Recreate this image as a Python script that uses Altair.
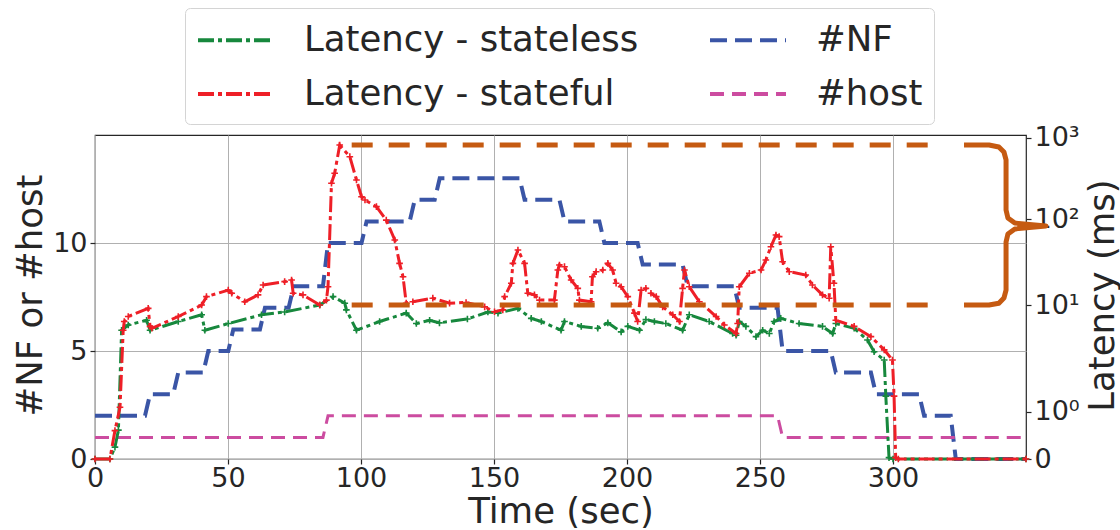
import altair as alt
import pandas as pd

# ---------------- data ----------------
x_ticks = [0, 50, 100, 150, 200, 250, 300]
left_ticks = [0, 5, 10]
# right axis: piecewise (0, 10^0, 10^1, 10^2, 10^3)
right_ticks = [0, 1, 2, 3, 4]
right_labels = ["0", "10⁰", "10¹", "10²", "10³"]

series_names = ["Latency - stateless", "Latency - stateful", "#NF", "#host"]
series_colors = ["#17883d", "#ee1f27", "#3a55a6", "#cc4ca0"]
series_dash = [[16, 4, 4, 4], [16, 4, 4, 4], [17, 8], [14, 8]]

nf_t = [0, 18.8, 29.4, 40.7, 50.1, 62.0, 72.8, 85.7, 100.2, 118.3, 127.7, 159.6,
        174.6, 189.6, 204.0, 220.9, 240.3, 256.6, 276.6, 291.7, 309.8, 321.7]
nf_v = [2, 3, 4, 5, 6, 7, 8, 10, 11, 12, 13, 12, 11, 10, 9, 8, 7, 5, 4, 3, 2, 0]

host_t = [0, 85.7, 256.6]
host_v = [1, 2, 1]

stateless_t = [0, 5.6, 7.5, 8.8, 10.0, 12.5, 19.4, 20.7, 31.3, 40.1, 41.3, 50.1, 62.6,
               71.3, 84.5, 89.5, 93.9, 94.5, 98.3, 107, 117, 120.8, 125.8, 129.5, 140.0,
               147.7, 151.5, 159, 164, 167.8, 175.2, 176.5, 182.8, 189, 192.8, 197.8,
               200.3, 204.7, 207.1, 210.3, 214.6, 220.9, 223.4, 230.9, 239.7, 241, 242.2,
               244.7, 248.5, 251, 253.5, 255.3, 257.8, 264.7, 273.5, 277.3, 278.5, 285.4,
               290.4, 292.9, 296.7, 297.3, 298.5, 300, 350]
stateless_ms = [0, 0, 0.25, 0.61, 5.8, 6.5, 7.2, 5.8, 7.0, 8.1, 5.8, 6.7, 8.1,
                8.6, 10.0, 12.5, 10.5, 9.0, 5.8, 7.0, 8.4, 6.7, 7.2, 6.8, 7.4,
                8.6, 8.4, 9.3, 7.5, 7.0, 5.8, 7.0, 6.3, 6.05, 6.8, 5.6,
                6.3, 5.8, 7.3, 7.0, 6.7, 5.8, 8.1, 7.0, 5.4, 5.2, 7.0,
                6.3, 5.05, 5.8, 5.4, 7.0, 7.5, 6.7, 6.3, 5.4, 6.7, 6.05,
                4.7, 3.65, 3.05, 1.4, 0.03, 0, 0]

stateful_t = [0, 5.6, 7.5, 9.4, 10.6, 11.0, 12.5, 20.0, 20.7, 21.4, 31.3, 40.1, 41.9,
              50.1, 51.4, 56.3, 61.3, 63.2, 71.3, 73.9, 74.5, 78.2, 84.5, 87.0, 87.6,
              88.9, 90.1, 92.0, 95.8, 98.3, 100.2, 101.5, 105.8, 109.5, 112.7, 114.5,
              115.8, 117.0, 119.5, 127.0, 133.3, 139.5, 146.5, 150.2, 153.3, 154.0,
              156.5, 157.1, 159.0, 161.5, 162.7, 165.2, 167.1, 172.7, 174.0, 174.6,
              176.5, 179.0, 181.5, 182.1, 186.5, 187.0, 188.4, 190.9, 192.8, 194.6,
              195.9, 197.8, 200.3, 202.8, 204.0, 205.3, 207.1, 209.0, 211.0, 213.4,
              217.2, 219.7, 220.9, 221.6, 223.4, 227.2, 233.5, 236.6, 241.0, 241.6,
              242.2, 246.0, 250.4, 252.2, 254.1, 256.0, 257.2, 258.5, 261.0, 267.2,
              269.7, 273.5, 276.0, 276.6, 277.8, 278.5, 285.4, 291.7, 296.7, 299.8,
              300.4, 301.0, 302, 350]
stateful_ms = [0, 0, 0.6, 1.1, 5.8, 7.0, 7.8, 9.3, 6.3, 6.05, 7.8, 10.0, 12.5,
               14.9, 13.7, 10.9, 13.1, 17.1, 18.7, 19.5, 13.7, 13.1, 10.0, 11.4, 16.3,
               275, 365, 813, 584, 302, 188, 171, 142, 97, 57, 30.5,
               21.3, 10.5, 10.9, 12.0, 10.5, 10.7, 9.6, 8.65, 9.0, 12.5,
               17.9, 30.5, 43.6, 30.5, 13.7, 13.1, 11.4, 11.4, 25.5, 29.2,
               27.9, 19.5, 15.6, 11.4, 10.9, 21.3, 24.4, 25.5, 30.5, 25.5,
               17.9, 16.3, 12.5, 8.4, 7.0, 14.9, 15.6, 13.7, 12.5, 9.6,
               8.1, 7.0, 15.6, 25.5, 16.3, 10.9, 7.8, 6.5, 5.4, 6.7,
               16.3, 23.4, 25.5, 33.3, 47.6, 65.2, 62.3, 31.8, 24.4, 22.3,
               17.1, 13.1, 12.0, 47.6, 17.9, 7.2, 6.3, 5.05, 3.8, 3.05,
               1.4, 0.03, 0, 0]

# orange annotation (latency band 10 ms .. ~800 ms)
band_ms = [10, 813]
band_t_start = 96.5
band_t_end = 314.5
brace_t = [326.7, 336.1, 339.8, 341.7, 342.5, 342.5, 343.2, 345.8, 357.5,
           345.8, 343.2, 342.5, 342.5, 341.7, 339.8, 336.1, 326.7]
brace_ms = [813, 813, 769, 667, 532, 129, 103, 89.7, 83,
            76.6, 67, 54, 14.9, 12.05, 10.5, 10, 10]

T_END = 350
RAMP = 1.9


def steps(ts, vs, name):
    rows = [(ts[0], vs[0])]
    for i in range(1, len(ts)):
        rows.append((ts[i], vs[i - 1]))
        rows.append((ts[i] + RAMP, vs[i]))
    rows.append((T_END, vs[-1]))
    return pd.DataFrame({"t": [r[0] for r in rows], "v": [r[1] for r in rows],
                         "series": name})


cnt_df = pd.concat([steps(nf_t, nf_v, "#NF"), steps(host_t, host_v, "#host")],
                   ignore_index=True)
lat_df = pd.concat([
    pd.DataFrame({"t": stateless_t, "ms": stateless_ms, "series": "Latency - stateless"}),
    pd.DataFrame({"t": stateful_t, "ms": stateful_ms, "series": "Latency - stateful"}),
], ignore_index=True)
band_df = pd.DataFrame({"t": band_t_start, "t2": band_t_end, "ms": band_ms})
brace_df = pd.DataFrame({"t": brace_t, "ms": brace_ms, "i": list(range(len(brace_t)))})

LV = "datum.ms <= 1 ? datum.ms : 1 + log(datum.ms) / LN10"

# ---------------- scales / axes ----------------
FONT = "DejaVu Sans"
INK = "#262626"
H = 324
W = 931

xscale = alt.Scale(domain=[0, T_END], nice=False, zero=False)
xaxis = alt.Axis(values=x_ticks, title="Time (sec)", grid=True, labelFlush=False,
                 labelBaseline="top", labelPadding=1,
                 titleY=63, titleBaseline="alphabetic")

lscale = alt.Scale(domain=[0, 15], nice=False, zero=True)
laxis = alt.Axis(values=left_ticks, title="#NF or #host", grid=True, orient="left",
                 labelPadding=3, labelFlush=False, titleX=-54, titleY=160, titleAngle=270,
                 titleAlign="center", titleBaseline="alphabetic")

rscale = alt.Scale(domain=[0, 1, 2, 3, 4.033], range=[H, 276.7, 170, 84, 0],
                   nice=False, zero=False)
raxis = alt.Axis(values=right_ticks, title="Latency (ms)", grid=False, orient="right",
                 labelExpr="['0','10⁰','10¹','10²','10³'][datum.value]",
                 labelAlign="left", labelPadding=3, labelFlush=False,
                 titleX=87, titleY=160, titleAngle=270, titleAlign="center",
                 titleBaseline="alphabetic")

color_scale = alt.Scale(domain=series_names, range=series_colors)
dash_scale = alt.Scale(domain=series_names, range=series_dash)
legend = alt.Legend(title=None, orient="none", legendX=90, legendY=-127, columns=2,
                    direction="vertical",
                    symbolType="M-2,0H2", symbolSize=1444, symbolOffset=19,
                    symbolStrokeWidth=4,
                    labelFontSize=35.5, labelFont=FONT, labelColor=INK,
                    labelOffset=47, columnPadding=63, rowPadding=14, padding=11,
                    labelLimit=700, strokeColor="#d4d4d4",
                    fillColor="rgba(255,255,255,0.85)", cornerRadius=5)

color_enc = alt.Color("series:N", scale=color_scale, legend=legend)
dash_enc = alt.StrokeDash("series:N", scale=dash_scale, legend=legend)

# ---------------- layer A: counts (left axis) ----------------
cnt_base = alt.Chart(cnt_df).encode(
    x=alt.X("t:Q", scale=xscale, axis=xaxis),
    y=alt.Y("v:Q", scale=lscale, axis=laxis),
    color=color_enc,
    strokeDash=dash_enc,
)
nf_line = cnt_base.transform_filter("datum.series == '#NF'").mark_line(strokeWidth=4)
host_line = cnt_base.transform_filter("datum.series == '#host'").mark_line(strokeWidth=3)
layer_a = alt.layer(nf_line, host_line)

# ---------------- layer B: latency (right axis) ----------------
lat_base = alt.Chart(lat_df).transform_calculate(lv=LV).encode(
    x=alt.X("t:Q", scale=xscale, axis=xaxis),
    y=alt.Y("lv:Q", scale=rscale, axis=raxis),
)
plus = "M-1,0H1M0,-1V1"
layers_b = []
for name in ["Latency - stateless", "Latency - stateful"]:
    f = lat_base.transform_filter(f"datum.series == '{name}'")
    layers_b.append(f.mark_line(strokeWidth=3).encode(color=color_enc, strokeDash=dash_enc))
    layers_b.append(f.mark_point(shape=plus, filled=False, size=44, strokeWidth=1.6,
                                 opacity=1).encode(
        color=alt.Color("series:N", scale=color_scale, legend=None)))

band = alt.Chart(band_df).transform_calculate(lv=LV).mark_rule(
    color="#c55a11", strokeWidth=5, strokeDash=[21, 16], strokeCap="butt"
).encode(
    x=alt.X("t:Q", scale=xscale, axis=xaxis),
    x2="t2:Q",
    y=alt.Y("lv:Q", scale=rscale, axis=raxis),
)
brace = alt.Chart(brace_df).transform_calculate(lv=LV).mark_line(
    color="#c55a11", strokeWidth=5, strokeJoin="round", clip=False
).encode(
    x=alt.X("t:Q", scale=xscale, axis=xaxis),
    y=alt.Y("lv:Q", scale=rscale, axis=raxis),
    order="i:Q",
)
layer_b = alt.layer(*layers_b, band, brace)

chart = alt.layer(layer_a, layer_b).resolve_scale(y="independent").properties(
    width=W, height=H,
    autosize=alt.AutoSizeParams(type="none"),
    padding={"left": 95, "top": 135, "right": 94, "bottom": 71},
    background="white",
).configure_view(
    stroke=INK, strokeWidth=1.2
).configure_axis(
    labelFont=FONT, labelFontSize=27, labelColor=INK,
    titleFont=FONT, titleFontSize=35.5, titleFontWeight="normal", titleColor=INK,
    domain=False, tickColor=INK, tickSize=5, tickWidth=1.2,
    gridColor="#b0b0b0", gridWidth=1,
)

chart.save("out.html", embed_options={"renderer": "svg", "actions": False})
